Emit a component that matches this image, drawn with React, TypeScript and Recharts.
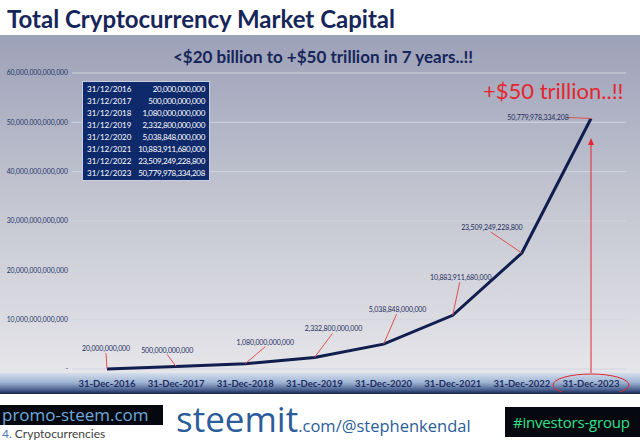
import React from "react";
import { LineChart, Line, XAxis, YAxis, CartesianGrid, LabelList, ReferenceLine } from "recharts";

const dates = ["31-Dec-2016", "31-Dec-2017", "31-Dec-2018", "31-Dec-2019", "31-Dec-2020", "31-Dec-2021", "31-Dec-2022", "31-Dec-2023"];
const tableDates = ["31/12/2016", "31/12/2017", "31/12/2018", "31/12/2019", "31/12/2020", "31/12/2021", "31/12/2022", "31/12/2023"];
const marketCap = [20000000000, 500000000000, 1080000000000, 2332800000000, 5038848000000, 10883911680000, 23509249228800, 50779978334208];
const yTicks = [0, 10000000000000, 20000000000000, 30000000000000, 40000000000000, 50000000000000, 60000000000000];
const arrowTop = 46800000000000;

const data = dates.map((date, i) => ({ date, cap: marketCap[i] }));

const NAVY = "#16255a";
const RED = "#e3262f";

// label centre relative to point, then leader start relative to label centre
const LABEL_POS = [
  [-1, -21, 0, 5],
  [-9, -17, 0, 5],
  [20, -22, 0, 5],
  [19, -29, -1, 5],
  [14, -35, -1, 5],
  [8, -38, -1, 5],
  [-30, -26, -1, 5],
  [-53, -1, 30, 0],
];

const fmt = (v: number) => (v === 0 ? "-" : v.toLocaleString("en-US"));

const PointLabel = (props: any) => {
  const { x, y, index, value } = props;
  const [dx, dy, lx, ly] = LABEL_POS[index];
  const cx = x + dx;
  const cy = y + dy;
  return (
    <g>
      <line x1={cx + lx} y1={cy + ly} x2={x} y2={y} stroke="#e0504f" strokeWidth={1} />
      <text x={cx} y={cy} textAnchor="middle" dominantBaseline="central" fontSize={7} letterSpacing={-0.1} fill="#1f2d5e" fontFamily="Lato">
        {fmt(value)}
      </text>
    </g>
  );
};

const ArrowShape = (props: any) => {
  const { x1, y1, y2 } = props;
  const bottom = Math.max(y1, y2);
  const top = Math.min(y1, y2);
  return (
    <g>
      <line x1={x1} y1={bottom + 4} x2={x1} y2={top + 6} stroke={RED} strokeWidth={1} />
      <polygon points={`${x1},${top} ${x1 - 3},${top + 7} ${x1 + 3},${top + 7}`} fill={RED} />
      <ellipse cx={x1} cy={bottom + 16} rx={38} ry={11} fill="none" stroke={RED} strokeWidth={1} />
    </g>
  );
};

export default function App() {
  return (
    <div style={{ position: "absolute", left: 0, top: 0, width: 640, height: 443, background: "#fff", overflow: "hidden", fontFamily: "Lato" }}>
      <div style={{ position: "absolute", left: 7, top: 4, fontSize: 24, fontWeight: 700, color: NAVY, whiteSpace: "nowrap" }}>
        Total Cryptocurrency Market Capital
      </div>
      <div style={{ position: "absolute", left: 0, top: 35, width: 640, height: 340, background: "linear-gradient(to bottom, #9da1b8 0%, #c4c6d1 50%, #e6e6ea 100%)" }} />
      <div style={{ position: "absolute", left: 0, top: 373, width: 640, height: 21, background: "linear-gradient(to bottom, #d4deec 0%, #9fb4d3 45%, #4a6190 80%, #15224e 100%)" }} />
      <div style={{ position: "absolute", left: 0, top: 46, width: 646, textAlign: "center", fontSize: 17, fontWeight: 700, color: NAVY }}>
        &lt;$20 billion to +$50 trillion in 7 years..!!
      </div>
      <div style={{ position: "absolute", left: 0, top: 0 }}>
        <LineChart width={640} height={392} data={data} margin={{ top: 73, right: 14, left: 0, bottom: 0 }}>
          <CartesianGrid vertical={false} stroke="#d3d5df" strokeWidth={1} />
          <XAxis
            dataKey="date"
            padding={{ left: 35, right: 35 }}
            axisLine={false}
            tickLine={false}
            tickSize={0}
            tickMargin={11}
            interval={0}
            height={23}
            tick={{ fontSize: 9.5, fontWeight: 700, fill: "#1d2d62", fontFamily: "Lato" }}
          />
          <YAxis
            domain={[0, 60000000000000]}
            ticks={yTicks}
            tickFormatter={fmt}
            width={72}
            axisLine={false}
            tickLine={false}
            tickSize={0}
            tickMargin={4}
            tick={{ fontSize: 6.8, fill: "#24346a", fontFamily: "Lato" }}
          />
          <ReferenceLine
            segment={[{ x: dates[7], y: 0 }, { x: dates[7], y: arrowTop }]}
            shape={ArrowShape}
          />
          <Line type="linear" dataKey="cap" stroke="#0f1d4f" strokeWidth={3} dot={false} isAnimationActive={false}>
            <LabelList dataKey="cap" content={PointLabel} />
          </Line>
        </LineChart>
      </div>
      <div style={{ position: "absolute", left: 82, top: 81, width: 126, height: 96, background: "#0f2a6b", border: "1px solid #c8cde0", padding: "1px 0" }}>
        {tableDates.map((d, i) => (
          <div key={d} style={{ display: "flex", justifyContent: "space-between", height: 12, lineHeight: "12px", fontSize: 8, color: "#fff", padding: "0 4px 0 4px" }}>
            <span>{d}</span>
            <span style={{ letterSpacing: -0.3 }}>{fmt(marketCap[i])}</span>
          </div>
        ))}
      </div>
      <div style={{ position: "absolute", left: 483, top: 77, fontSize: 22, color: RED, whiteSpace: "nowrap" }}>+$50 trillion..!!</div>

      <div style={{ position: "absolute", left: 0, top: 405, width: 163, height: 20, background: "#05080f", boxSizing: "border-box" }} />
      <div style={{ position: "absolute", left: 2, top: 403, color: "#6fa8dc", fontSize: 17, lineHeight: "24px", fontFamily: "Open Sans", whiteSpace: "nowrap" }}>
        promo-steem.com
      </div>
      <div style={{ position: "absolute", left: 2, top: 427, fontSize: 12, lineHeight: "14px", color: "#404040", whiteSpace: "nowrap" }}>
        <span style={{ color: "#4a7ac0" }}>4.</span> Cryptocurrencies
      </div>
      <div style={{ position: "absolute", left: 176, top: 397, color: "#2c5d9b", whiteSpace: "nowrap", fontFamily: "Open Sans", lineHeight: "44px" }}>
        <span style={{ fontSize: 35, fontWeight: 400 }}>steemit</span>
        <span style={{ fontSize: 16.5 }}>.com/@stephenkendal</span>
      </div>
      <div style={{ position: "absolute", left: 505, top: 407, width: 135, height: 30, background: "#05080f", color: "#33e08c", fontSize: 15, lineHeight: "30px", fontFamily: "Open Sans", paddingLeft: 8, boxSizing: "border-box", whiteSpace: "nowrap", letterSpacing: -0.2 }}>
        #investors-group
      </div>
    </div>
  );
}
